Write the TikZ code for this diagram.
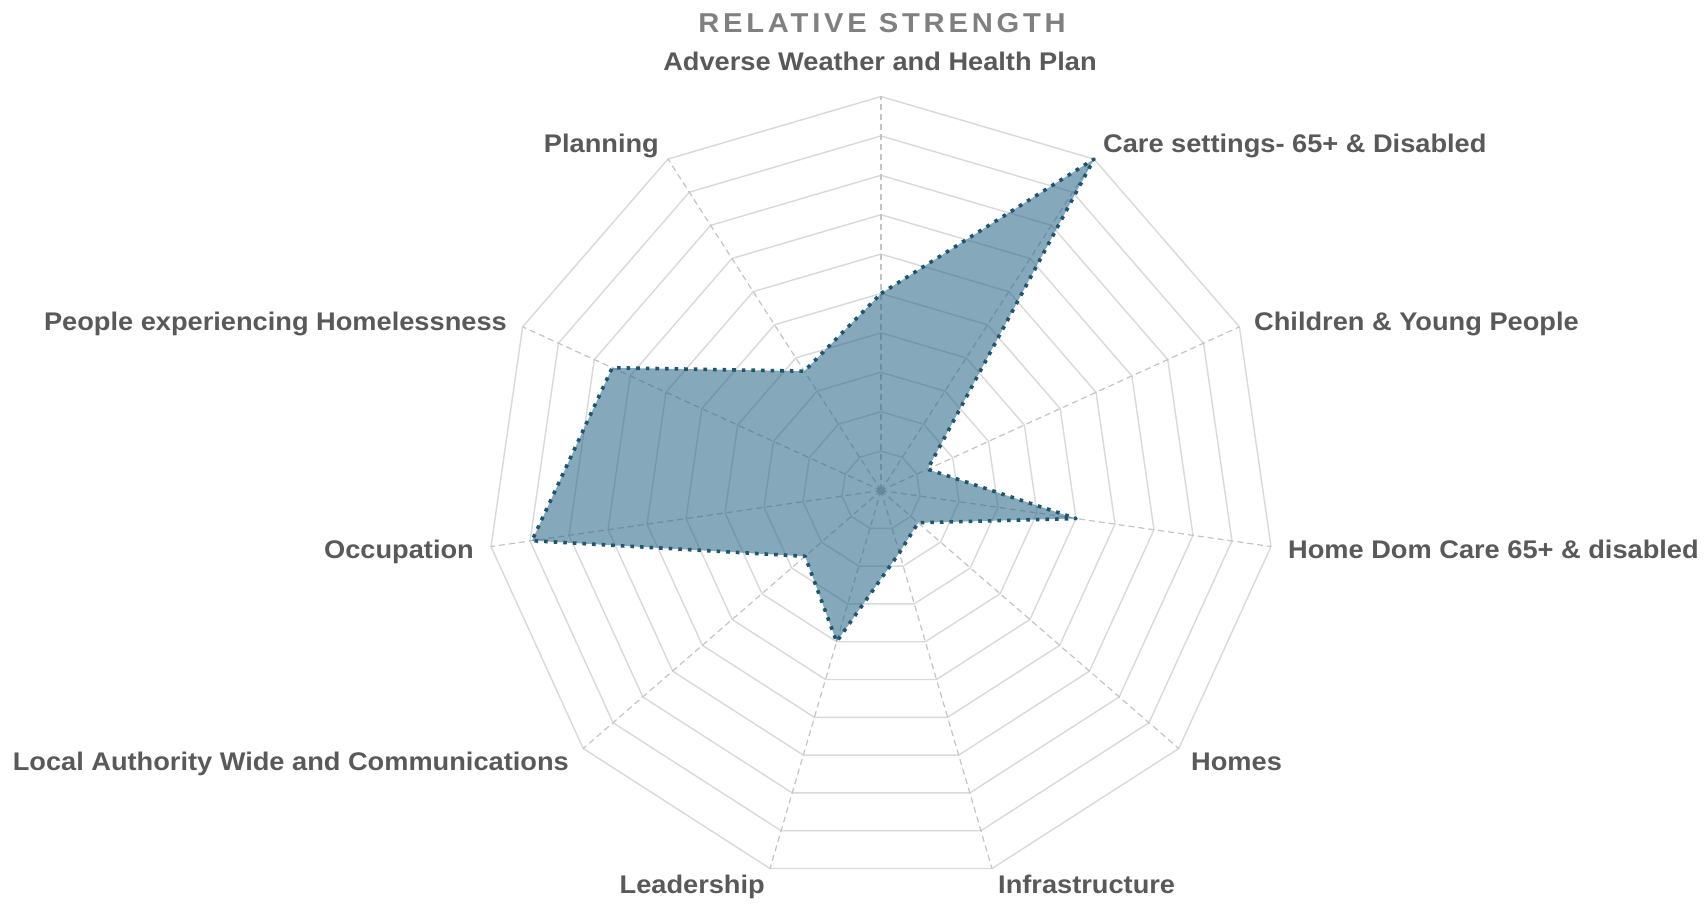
\documentclass[tikz,border=0pt]{standalone}
\usepackage{fontspec}
\setmainfont{Liberation Sans}
\newfontfamily\lblfont{Liberation Sans}[FakeStretch=1.067]
\newfontfamily\ttlfont{Liberation Sans}[FakeStretch=1.067,LetterSpace=14]
\definecolor{lbl}{HTML}{595959}
\definecolor{ttl}{HTML}{808080}
\definecolor{ringc}{HTML}{D9D9D9}
\definecolor{spokec}{HTML}{C4C4C4}
\definecolor{areac}{HTML}{2A6689}
\definecolor{edgec}{HTML}{1E5570}
\begin{document}
\begin{tikzpicture}[x=1pt,y=1pt,
  lbl/.style={font=\lblfont\bfseries\fontsize{25.5}{30}\selectfont, text=lbl, inner sep=0pt},
  ttlstyle/.style={font=\ttlfont\bfseries\fontsize{27.3}{32}\selectfont, text=ttl, inner sep=0pt},
  ringline/.style={draw=ringc, line width=1.4pt},
  spoke/.style={draw=spokec, line width=1.2pt, dash pattern=on 6pt off 4pt},
  area/.style={fill=areac, fill opacity=0.57},
  edgeline/.style={draw=edgec, line width=3.6pt, line join=round, dash pattern=on 3.6pt off 6pt}]
\useasboundingbox (0,0) rectangle (1705,903);
\fill[white] (0,0) rectangle (1705,903);
\coordinate (c) at (881,412.5);
\begin{scope}[shift={(881,412.5)}]
  % rings
  \foreach \k in {1,...,10} {
    \draw[ringline] ({90}:{\k*39.4}) \foreach \i in {1,...,10} { -- ({90-\i*360/11}:{\k*39.4}) } -- cycle;
  }
  % spokes
  \foreach \i in {0,...,10} {
    \coordinate (o\i) at ({90-\i*360/11}:394);
    \draw[spoke] (c) -- (o\i);
  }
  \fill[gray!55] (c) circle (4.5);
  % data
  \foreach \v [count=\i from 0] in {5,10,1.3,5,1.25,1.65,4,2.55,8.95,7.5,3.6} {
    \coordinate (p\i) at ({90-\i*360/11}:{\v*39.4});
  }
\end{scope}
\fill[area] (p0) -- (p1) -- (p2) -- (p3) -- (p4) -- (p5) -- (p6) -- (p7) -- (p8) -- (p9) -- (p10) -- cycle;
\draw[edgeline] (p0) -- (p1) -- (p2) -- (p3) -- (p4) -- (p5) -- (p6) -- (p7) -- (p8) -- (p9) -- (p10) -- cycle;
% labels
\node[ttlstyle, anchor=base] (title) at (882,870) {RELATIVE STRENGTH};
\node[lbl, anchor=base] (tAdv) at (880,832) {Adverse Weather and Health Plan};
\node[lbl, anchor=base west] (tCare) at (1103,750) {Care settings- 65+ \& Disabled};
\node[lbl, anchor=base east] (tPlan) at (659,750) {Planning};
\node[lbl, anchor=base west] (tChild) at (1254,572) {Children \& Young People};
\node[lbl, anchor=base east] (tHomeless) at (507,572) {People experiencing Homelessness};
\node[lbl, anchor=base west] (tDom) at (1288,344) {Home Dom Care 65+ \& disabled};
\node[lbl, anchor=base east] (tOcc) at (474,344) {Occupation};
\node[lbl, anchor=base west] (tHomes) at (1191,133) {Homes};
\node[lbl, anchor=base east] (tLA) at (569,133) {Local Authority Wide and Communications};
\node[lbl, anchor=base west] (tInfra) at (998,10) {Infrastructure};
\node[lbl, anchor=base east] (tLead) at (765,10) {Leadership};
\end{tikzpicture}
\end{document}
